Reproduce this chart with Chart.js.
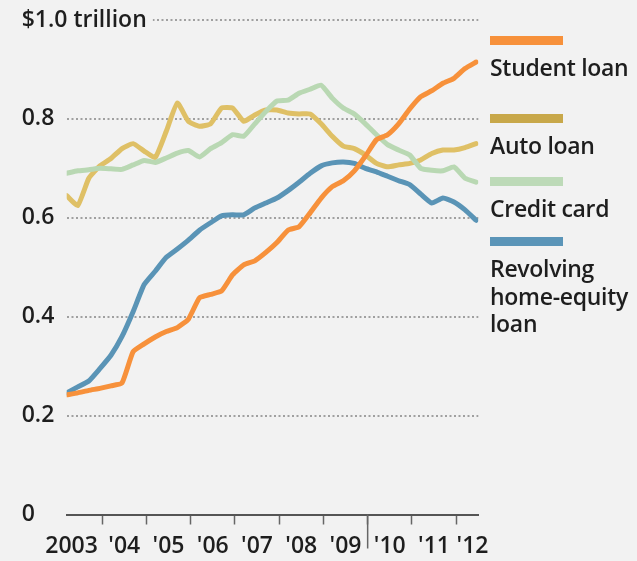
<!DOCTYPE html>
<html>
<head>
<meta charset="utf-8">
<script src="https://cdn.jsdelivr.net/npm/chart.js@4.4.1/dist/chart.umd.min.js"></script>
<style>
  html, body { margin: 0; padding: 0; background: #f2f2f2; }
  #wrap { position: relative; width: 637px; height: 561px; }
  #key { position: absolute; left: 490px; top: 0; width: 147px;
         font-family: 'Open Sans', 'Liberation Sans', Arial, sans-serif; font-weight: 600;
         font-size: 23px; line-height: 27.5px; color: #1e1e1e; letter-spacing: -0.3px; }
  .bar { position: absolute; left: 0; width: 73px; height: 9px; }
  .name { position: absolute; left: 0; width: 147px; }
</style>
</head>
<body>
<div id="wrap">
  <canvas id="chart" width="637" height="561"></canvas>
  <div id="key"></div>
</div>
<script>
// quarterly balances, $ trillion
const quarters = [
  '2003Q1','2003Q2','2003Q3','2003Q4','2004Q1','2004Q2','2004Q3','2004Q4',
  '2005Q1','2005Q2','2005Q3','2005Q4','2006Q1','2006Q2','2006Q3','2006Q4',
  '2007Q1','2007Q2','2007Q3','2007Q4','2008Q1','2008Q2','2008Q3','2008Q4',
  '2009Q1','2009Q2','2009Q3','2009Q4','2010Q1','2010Q2','2010Q3','2010Q4',
  '2011Q1','2011Q2','2011Q3','2011Q4','2012Q1','2012Q2'
];
const studentLoan = [0.242,0.246,0.251,0.255,0.26,0.266,0.329,0.345,0.359,0.37,0.378,0.395,0.438,0.445,0.452,0.485,0.505,0.513,0.53,0.55,0.575,0.582,0.61,0.64,0.663,0.675,0.695,0.725,0.758,0.768,0.79,0.82,0.845,0.857,0.872,0.882,0.902,0.915];
const autoLoan = [0.645,0.625,0.68,0.705,0.72,0.74,0.75,0.735,0.722,0.775,0.832,0.795,0.785,0.79,0.822,0.822,0.795,0.808,0.818,0.818,0.812,0.81,0.81,0.79,0.765,0.745,0.74,0.727,0.71,0.703,0.707,0.71,0.717,0.73,0.737,0.737,0.742,0.75];
const creditCard = [0.69,0.695,0.697,0.70,0.699,0.698,0.707,0.716,0.712,0.721,0.731,0.736,0.723,0.74,0.752,0.768,0.765,0.79,0.815,0.836,0.838,0.852,0.86,0.868,0.842,0.822,0.81,0.79,0.768,0.748,0.737,0.727,0.70,0.696,0.695,0.703,0.68,0.672];
const homeEquity = [0.246,0.258,0.27,0.295,0.322,0.36,0.41,0.465,0.492,0.52,0.537,0.555,0.575,0.59,0.604,0.606,0.606,0.62,0.63,0.64,0.655,0.672,0.69,0.705,0.711,0.713,0.71,0.70,0.693,0.684,0.675,0.667,0.648,0.63,0.64,0.632,0.616,0.595];

const seriesNames = ['Student loan', 'Auto loan', 'Credit card', 'Revolving home-equity loan'];
const yearLabels = ['2003', "'04", "'05", "'06", "'07", "'08", "'09", "'10", "'11", "'12"];
const yTicks = [0, 0.2, 0.4, 0.6, 0.8, 1.0];
const yTickLabels = ['0', '0.2', '0.4', '0.6', '0.8', '$1.0 trillion'];
const breakYear = 2010;

// styles
const bg = '#f2f2f2';
const lineColors = ['#f7913b', '#dfc066', '#b9d8b3', '#5a94b6'];
const keyColors = ['#f7913b', '#c8a84a', '#bddab8', '#5b95b8'];
const drawOrder = [0, 3, 1, 2];
const keyTops = [36, 114, 177, 237];
const xMin = 2003.2, xMax = 2012.5;

Chart.defaults.font.family = "'Open Sans', 'Liberation Sans', Arial, sans-serif";
Chart.defaults.font.size = 23;
Chart.defaults.font.weight = 600;
Chart.defaults.color = '#1e1e1e';

function qx(q) {
  return parseInt(q.slice(0, 4)) + (parseInt(q.slice(5)) - 1) / 4 + 0.2;
}

const allSeries = [studentLoan, autoLoan, creditCard, homeEquity];
const datasets = allSeries.map((s, i) => ({
  label: seriesNames[i],
  data: quarters.map((q, j) => ({ x: qx(q), y: s[j] })),
  borderColor: lineColors[i],
  borderWidth: 5,
  pointRadius: 0,
  tension: 0.15,
  borderCapStyle: 'round',
  borderJoinStyle: 'round',
  order: drawOrder[i]
}));

const breakTick = {
  id: 'breakTick',
  afterDraw(chart) {
    const x = chart.scales.x.getPixelForValue(breakYear);
    const c = chart.ctx;
    c.save();
    c.strokeStyle = '#666';
    c.lineWidth = 1.5;
    c.beginPath();
    c.moveTo(x, chart.chartArea.bottom);
    c.lineTo(x, chart.chartArea.bottom + 34);
    c.stroke();
    c.restore();
  }
};

new Chart(document.getElementById('chart'), {
  type: 'line',
  data: { datasets },
  plugins: [breakTick],
  options: {
    responsive: false,
    animation: false,
    layout: { padding: { left: 18, right: 158.7, top: 20, bottom: 0 } },
    plugins: { legend: { display: false }, tooltip: { enabled: false } },
    scales: {
      x: {
        type: 'linear',
        min: xMin,
        max: xMax,
        afterBuildTicks: (scale) => {
          const t = [];
          for (let y = 2004; y <= 2012; y++) t.push({ value: y, mark: true });
          yearLabels.forEach((l, i) => {
            let pos = 2003 + i + 0.5;
            if (i === 0) pos = xMin + 0.11;
            if (i === yearLabels.length - 1) pos = xMax - 0.13;
            t.push({ value: pos, lbl: l });
          });
          t.sort((a, b) => a.value - b.value);
          scale.ticks = t;
        },
        afterFit: (scale) => { scale.height = 46.5; },
        ticks: {
          autoSkip: false,
          maxRotation: 0,
          padding: 8,
          callback: (v, i, ticks) => ticks[i].lbl || ''
        },
        grid: {
          drawOnChartArea: false,
          tickLength: 10,
          tickWidth: 1.5,
          tickColor: (ctx) => (ctx.tick && ctx.tick.mark) ? '#666' : 'transparent'
        },
        border: { display: true, color: '#555', width: 2 }
      },
      y: {
        min: 0,
        max: 1,
        afterBuildTicks: (scale) => { scale.ticks = yTicks.map(v => ({ value: v })); },
        afterFit: (scale) => { scale.width = 48.7; },
        ticks: {
          mirror: true,
          crossAlign: 'near',
          padding: -45,
          callback: (v, i) => yTickLabels[i],
          showLabelBackdrop: (ctx) => ctx.tick && ctx.tick.value === 1,
          backdropColor: bg,
          backdropPadding: { top: 2, bottom: 2, left: 0, right: 6 }
        },
        grid: {
          drawTicks: false,
          lineWidth: 2,
          color: (ctx) => (ctx.tick && ctx.tick.value === 0) ? 'transparent' : '#a0a0a0'
        },
        border: { display: false, dash: [2, 2.5] }
      }
    }
  }
});

// key on the right
const key = document.getElementById('key');
seriesNames.forEach((n, i) => {
  const b = document.createElement('div');
  b.className = 'bar';
  b.style.top = keyTops[i] + 'px';
  b.style.background = keyColors[i];
  key.appendChild(b);
  const t = document.createElement('div');
  t.className = 'name';
  t.style.top = (keyTops[i] + 18) + 'px';
  t.textContent = n;
  key.appendChild(t);
});
</script>
</body>
</html>
